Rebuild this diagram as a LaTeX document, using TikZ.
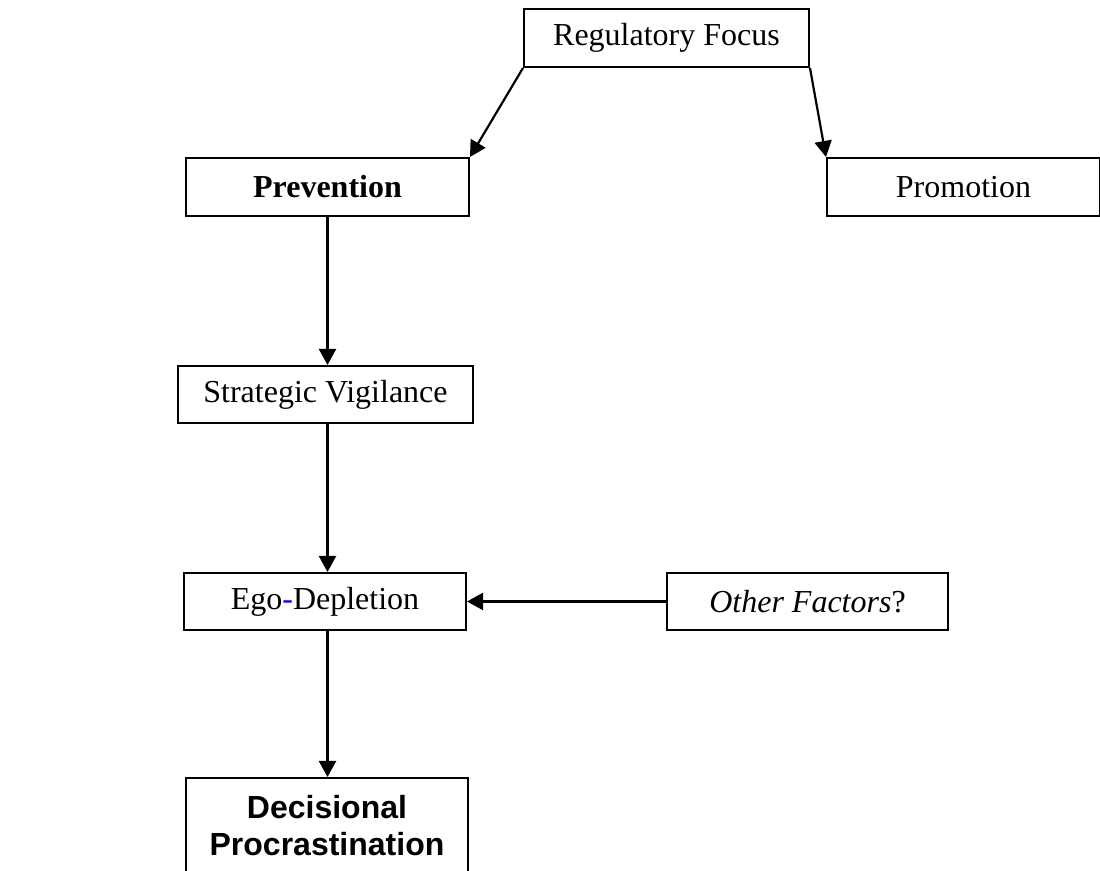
\documentclass[tikz,border=0pt]{standalone}
\usepackage{fontspec}
\setmainfont{Liberation Serif}
\newfontfamily\arialfont{Liberation Sans}
\usetikzlibrary{arrows.meta}
\usetikzlibrary{positioning}

\begin{document}
\begin{tikzpicture}[x=0.5pt, y=-0.5pt,
		box/.style={draw, line width=1pt, rectangle, inner sep=0pt, anchor=north west,
			font=\fontsize{16}{18.5}\selectfont},
		arr/.style={line width=1.1pt, -{Triangle[width=8.5pt,length=8pt]}}]
					% page size
					\useasboundingbox (0,0) rectangle (1100,871);
					% draw boxes
					\node[box, minimum width=142.5pt, minimum height=29pt] (regfocus) at (523,8) {Regulatory Focus};
					\node[box, minimum width=141.5pt, minimum height=29pt] (prevention) at (185,157) {\textbf{Prevention}};
					\node[box, minimum width=136.5pt, minimum height=29pt] (promotion) at (826,157) {Promotion};
					\node[box, minimum width=147.5pt, minimum height=28.5pt] (vigilance) at (177,365) {Strategic Vigilance};
					\node[box, minimum width=141pt, minimum height=28.5pt] (egodep) at (183,572) {Ego{\color{blue}-}Depletion};
					\node[box, minimum width=140.5pt, minimum height=28.5pt] (other) at (666,572) {\textit{Other Factors}?};
					\node[box, minimum width=141pt, minimum height=48pt, align=center,
						font=\arialfont\bfseries\fontsize{16}{18.5}\selectfont] (decproc) at (185,777) {Decisional\\Procrastination};
					
					% draw arrows
					\draw[arr] (regfocus.south west) -- (prevention.north east);
					\draw[arr] (regfocus.south east) -- (promotion.north west);
					\draw[arr] (prevention.south) -- (vigilance.north -| prevention.south);
					\draw[arr] (vigilance.south -| prevention.south) -- (egodep.north -| prevention.south);
					\draw[arr] (egodep.south -| prevention.south) -- (decproc.north -| prevention.south);
					\draw[arr] (other.west) -- (egodep.east);
				\end{tikzpicture}
\end{document}
